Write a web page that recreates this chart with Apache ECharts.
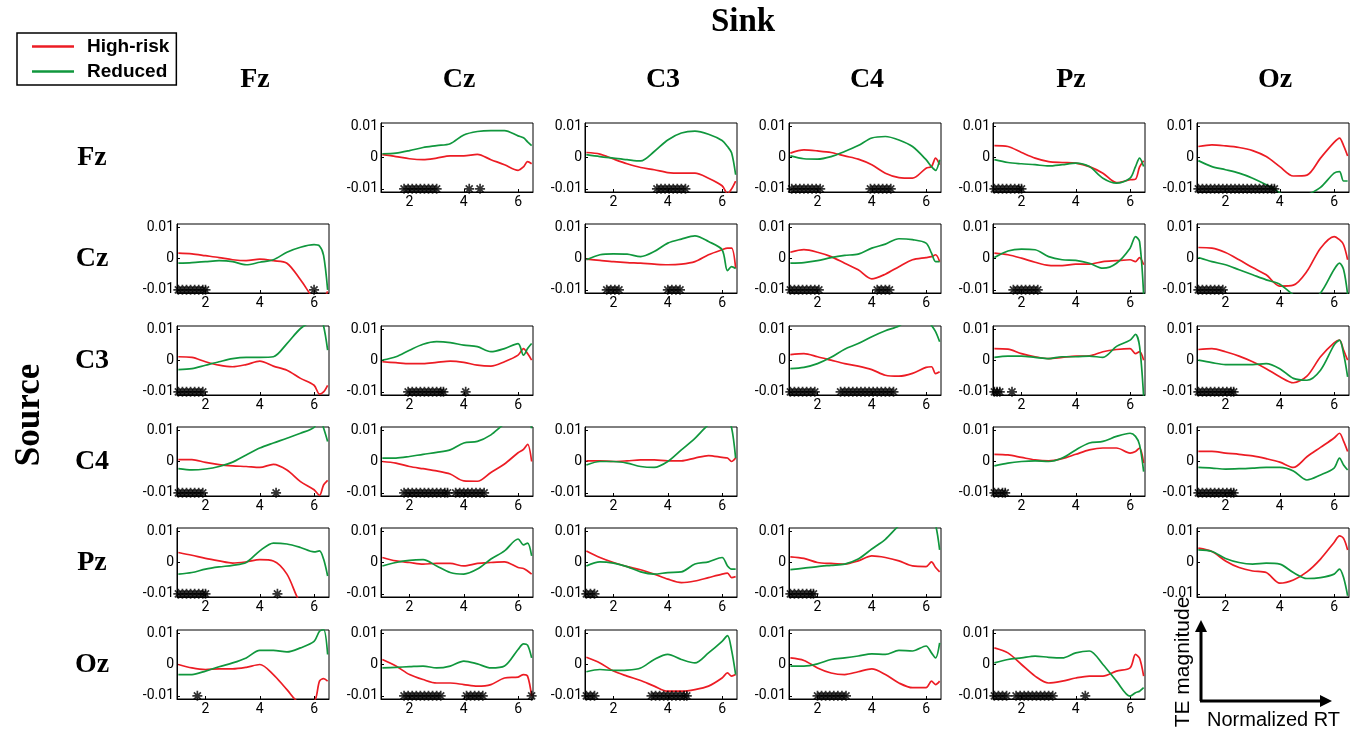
<!DOCTYPE html>
<html>
<head>
<meta charset="utf-8">
<script src="https://cdn.jsdelivr.net/npm/echarts@6/dist/echarts.min.js"></script>
<style>
  html, body { margin: 0; background: #fff; }
  #main { width: 1363px; height: 735px; }
</style>
</head>
<body>
<div id="main"></div>
<script>
// channels (rows = source, columns = sink)
const sources = ['Fz', 'Cz', 'C3', 'C4', 'Pz', 'Oz'];
const sinks = ['Fz', 'Cz', 'C3', 'C4', 'Pz', 'Oz'];

// normalized RT sample points (x)
const rt = [1, 1.5, 2, 2.5, 3, 3.5, 4, 4.5, 5, 5.5, 6, 6.2, 6.35, 6.5];

// TE values, in units of 1e-3 ; hr = High-risk, rd = Reduced, sig = asterisk positions
const hr_Fz_Cz = [0.9, 0.3, -0.4, -0.7, -0.2, 0.5, 0.5, 1.0, -0.7, -2.3, -4.1, -3.0, -1.3, -2.0];
const rd_Fz_Cz = [1.2, 1.4, 2.2, 3.2, 3.8, 4.4, 7.2, 8.3, 8.6, 8.6, 6.9, 6.3, 5.0, 3.8];
const sig_Fz_Cz = [1.8, 1.95, 2.1, 2.25, 2.4, 2.55, 2.7, 2.85, 3.0, 4.2, 4.6];
const hr_Fz_C3 = [1.6, 1.1, -0.5, -2.0, -3.2, -3.9, -4.8, -5.0, -5.0, -6.6, -9.0, -11.5, -10.0, -7.5];
const rd_Fz_C3 = [0.9, 0.3, -0.2, -0.7, -1.1, 1.9, 5.6, 7.8, 8.4, 7.4, 5.4, 3.5, 1.5, -5.5];
const sig_Fz_C3 = [3.6, 3.75, 3.9, 4.05, 4.2, 4.35, 4.5, 4.65];
const hr_Fz_C4 = [1.4, 2.4, 2.1, 1.6, 0.5, -0.5, -2.3, -5.0, -6.4, -6.6, -3.4, -2.9, -0.2, -2.3];
const rd_Fz_C4 = [0.5, -0.4, -0.5, 0.3, 1.9, 3.8, 6.2, 6.7, 5.6, 3.5, -0.7, -2.9, -4.1, -0.7];
const sig_Fz_C4 = [1.05, 1.2, 1.35, 1.5, 1.65, 1.8, 1.95, 2.1, 3.95, 4.1, 4.25, 4.4, 4.55, 4.7];
const hr_Fz_Pz = [3.8, 3.5, 1.6, -0.2, -1.3, -1.6, -1.8, -2.9, -5.0, -8.0, -7.1, -6.9, -3.0, -1.0];
const rd_Fz_Pz = [-0.7, -1.6, -2.0, -2.3, -2.7, -2.3, -1.8, -2.9, -6.6, -8.2, -6.6, -2.9, -0.2, -2.9];
const sig_Fz_Pz = [1.0, 1.15, 1.3, 1.45, 1.6, 1.75, 1.9, 2.0];
const hr_Fz_Oz = [3.5, 4.0, 3.7, 3.2, 2.2, 0.3, -2.9, -5.9, -5.6, -0.2, 4.8, 6.2, 3.8, 0.5];
const rd_Fz_Oz = [-1.0, -2.9, -3.9, -5.0, -6.6, -8.7, -11.2, -14, -12, -9.5, -5.0, -4.5, -7.5, -7.5];
const sig_Fz_Oz = [1.0, 1.15, 1.3, 1.45, 1.6, 1.75, 1.9, 2.05, 2.2, 2.35, 2.5, 2.65, 2.8, 2.95, 3.1, 3.25, 3.4, 3.55, 3.7, 3.8];

const hr_Cz_Fz = [1.7, 1.5, 0.9, 0.3, -0.4, -0.7, -0.2, -0.7, -1.5, -6.8, -13, -14, -13, -10.5];
const rd_Cz_Fz = [-1.5, -1.3, -1.0, -0.7, -1.0, -2.0, -1.2, -0.4, 2.0, 3.6, 4.4, 4.0, 1.0, -10];
const sig_Cz_Fz = [1.0, 1.15, 1.3, 1.45, 1.6, 1.75, 1.9, 2.0, 6.0];
const hr_Cz_C3 = [-0.2, -0.6, -1.0, -1.3, -1.5, -1.8, -2.0, -1.8, -1.0, 1.2, 2.8, 3.3, 3.3, -3.1];
const rd_Cz_C3 = [-0.4, 1.2, 1.5, 1.4, 0.6, 2.2, 4.9, 6.2, 7.2, 5.4, 2.8, -3.9, -2.6, -3.2];
const sig_Cz_C3 = [1.75, 1.9, 2.05, 2.2, 4.0, 4.15, 4.3, 4.45];
const hr_Cz_C4 = [2.0, 2.8, 2.0, 0.6, -1.5, -3.6, -6.5, -5.0, -2.6, -0.4, 0.3, 0.6, 1.2, -1.0];
const rd_Cz_C4 = [-1.5, -1.3, -0.7, 0.3, 1.0, 1.4, 3.3, 4.6, 6.3, 6.0, 4.9, 1.7, -1.0, -1.0];
const sig_Cz_C4 = [1.0, 1.15, 1.3, 1.45, 1.6, 1.75, 1.9, 2.05, 4.2, 4.35, 4.5, 4.65];
const hr_Cz_Pz = [1.7, 1.2, 0.1, -1.2, -2.2, -2.3, -1.8, -1.8, -1.0, -0.7, -0.4, -1.0, 0.3, -2.0];
const rd_Cz_Pz = [0.3, 2.4, 3.0, 2.8, 0.6, -0.4, -0.6, -1.5, -3.1, -1.5, 3.3, 7.0, 5.4, -11.6];
const sig_Cz_Pz = [1.7, 1.85, 2.0, 2.15, 2.3, 2.45, 2.6];
const hr_Cz_Oz = [3.5, 3.3, 1.9, -0.4, -2.9, -5.2, -8.8, -8.5, -4.1, 3.3, 7.0, 6.0, 4.4, -0.4];
const rd_Cz_Oz = [0.3, -1.0, -2.0, -3.6, -5.2, -6.8, -8.2, -11.6, -14, -11, -3.5, -1.5, -3.5, -11.5];
const sig_Cz_Oz = [1.0, 1.15, 1.3, 1.45, 1.6, 1.75, 1.9];

const hr_C3_Fz = [1.2, 1.0, -0.4, -1.5, -2.0, -1.3, -0.2, -1.8, -3.1, -5.7, -7.9, -10.7, -10.0, -7.9];
const rd_C3_Fz = [-2.9, -2.6, -1.5, -0.4, 0.6, 1.0, 1.0, 1.2, 5.4, 10.2, 13, 14, 11, 3.3];
const sig_C3_Fz = [1.0, 1.15, 1.3, 1.45, 1.6, 1.75, 1.9];
const hr_C3_Cz = [-0.4, -0.7, -1.0, -1.0, -0.6, -0.2, -0.6, -1.5, -1.8, -0.4, 1.7, 3.8, 2.2, 0.1];
const rd_C3_Cz = [0.1, 1.2, 3.3, 5.2, 6.0, 5.7, 4.9, 4.4, 2.8, 3.8, 5.4, 1.7, 3.8, 5.4];
const sig_C3_Cz = [1.95, 2.1, 2.25, 2.4, 2.55, 2.7, 2.85, 3.0, 3.15, 3.25, 4.07];
const hr_C3_C4 = [1.9, 2.2, 1.2, 0.1, -1.0, -1.8, -2.9, -4.7, -5.0, -4.1, -2.2, -2.0, -4.2, -3.6];
const rd_C3_C4 = [-2.6, -2.2, -1.0, 1.0, 3.6, 5.4, 7.6, 9.5, 11, 14, 14, 11.2, 9.2, 6.0];
const sig_C3_C4 = [1.0, 1.15, 1.3, 1.45, 1.6, 1.75, 1.9, 2.85, 3.0, 3.15, 3.3, 3.45, 3.6, 3.75, 3.9, 4.05, 4.2, 4.35, 4.5, 4.65, 4.8];
const hr_C3_Pz = [3.8, 3.6, 2.2, 1.2, 0.6, 1.0, 1.4, 1.5, 2.8, 3.5, 3.8, 2.2, 2.8, 0.1];
const rd_C3_Pz = [1.0, 1.4, 1.4, 1.0, 0.6, 1.2, 1.2, 1.4, 1.0, 4.5, 6.5, 8.3, 4.5, -11.6];
const sig_C3_Pz = [1.0, 1.1, 1.2, 1.65];
const hr_C3_Oz = [3.5, 3.8, 2.8, 1.4, -0.4, -2.6, -5.2, -7.1, -5.0, 1.2, 5.6, 6.5, 3.3, 0.1];
const rd_C3_Oz = [0.1, -0.7, -1.3, -1.3, -1.3, -1.0, -2.6, -5.7, -6.3, -3.1, 4.9, 6.5, 2.2, -5.2];
const sig_C3_Oz = [1.0, 1.15, 1.3, 1.45, 1.6, 1.75, 1.9, 2.05, 2.2, 2.3];

const hr_C4_Fz = [0.6, 0.6, -0.3, -1.0, -1.4, -1.6, -1.9, -0.9, -2.7, -6.4, -9.0, -10.8, -7.5, -6.0];
const rd_C4_Fz = [-2.3, -2.7, -2.4, -1.6, -0.2, 2.1, 4.3, 5.9, 7.4, 9.0, 10.9, 14, 10.7, 6.4];
const sig_C4_Fz = [1.0, 1.15, 1.3, 1.45, 1.6, 1.75, 1.9, 4.6];
const hr_C4_Cz = [0.0, -0.5, -1.6, -2.3, -3.0, -4.0, -6.2, -6.3, -3.5, -0.8, 2.8, 3.9, 5.5, 0];
const rd_C4_Cz = [1.1, 1.1, 1.6, 2.3, 2.9, 3.7, 5.9, 6.4, 8.5, 12, 14, 14, 14, 10.6];
const sig_C4_Cz = [1.8, 1.95, 2.1, 2.25, 2.4, 2.55, 2.7, 2.85, 3.0, 3.15, 3.3, 3.4, 3.7, 3.85, 4.0, 4.15, 4.3, 4.45, 4.6, 4.75];
const hr_C4_C3 = [0.2, 0.2, 0.0, 0.2, 0.5, 0.5, 0.2, 0.2, 1.1, 1.9, 1.3, 1.1, 0, 1.1];
const rd_C4_C3 = [-1.1, 0.0, 0.0, -0.5, -1.6, -1.9, 0, 3.7, 7.4, 11.7, 14, 13, 10.8, 1.1];
const sig_C4_C3 = [];
const hr_C4_Pz = [2.3, 2.1, 1.3, 0.5, 0.2, 0.9, 2.3, 3.7, 4.3, 4.3, 2.7, 3.2, 4.3, -0.5];
const rd_C4_Pz = [-1.4, -0.5, 0.0, 0.2, 0.0, 1.1, 3.7, 5.9, 6.4, 8.0, 9.0, 8.0, 5.3, -3.2];
const sig_C4_Pz = [1.0, 1.15, 1.3, 1.4];
const hr_C4_Oz = [3.2, 3.2, 2.7, 2.3, 1.8, 0.9, -0.2, -1.9, 1.5, 4.5, 7.5, 9.0, 6.5, 3.2];
const rd_C4_Oz = [-1.9, -2.1, -2.4, -2.3, -2.1, -1.9, -1.9, -3.0, -5.9, -4.3, -2.1, 1.1, -1.1, -2.7];
const sig_C4_Oz = [1.0, 1.15, 1.3, 1.45, 1.6, 1.75, 1.9, 2.05, 2.2, 2.3];

const hr_Pz_Fz = [3.2, 2.3, 1.3, 0.5, -0.2, 0.2, 0.9, 0.5, -3.7, -13, -16, -16, -16, -16];
const rd_Pz_Fz = [-3.7, -3.2, -2.1, -1.4, -0.9, 0.0, 3.7, 6.2, 5.9, 4.8, 3.4, 3.7, 1.1, -4.3];
const sig_Pz_Fz = [1.0, 1.15, 1.3, 1.45, 1.6, 1.75, 1.9, 2.0, 4.65];
const hr_Pz_Cz = [1.6, 0.5, 0.0, -0.5, -0.3, -0.3, -1.1, -0.3, 0, 0.2, -1.6, -1.9, -2.7, -3.7];
const rd_Pz_Cz = [-1.1, 0, 0.7, 0.9, -1.1, -3.2, -3.7, -2.1, 1.1, 3.7, 7.5, 5.6, 6.2, 2.1];
const sig_Pz_Cz = [];
const hr_Pz_C3 = [3.7, 1.6, 0.0, -1.3, -2.3, -3.7, -5.3, -6.4, -5.9, -4.8, -3.7, -3.4, -4.8, -4.5];
const rd_Pz_C3 = [-1.1, 0.2, -0.2, -1.3, -3.0, -3.7, -3.2, -3.0, -0.5, 0.2, 1.6, -1.1, -2.1, -2.1];
const sig_Pz_C3 = [1.0, 1.15, 1.3];
const hr_Pz_C4 = [1.8, 1.3, 0, -0.3, -0.5, 0.5, 2.1, 1.6, 0.5, -1.1, -1.3, 0.2, -1.6, -3.0];
const rd_Pz_C4 = [-2.3, -1.8, -1.3, -0.9, -0.5, 1.1, 4.3, 7.4, 11.7, 14, 14, 14, 12, 4];
const sig_Pz_C4 = [1.0, 1.15, 1.3, 1.45, 1.6, 1.75, 1.85];
const hr_Pz_Oz = [4.6, 3.5, 0.5, -1.6, -2.7, -3.2, -6.6, -5.6, -3.0, 1.1, 6.4, 8.5, 7.7, 4.0];
const rd_Pz_Oz = [4.0, 3.5, 1.3, 0.0, -0.5, -0.2, -0.5, -3.2, -5.1, -4.8, -3.7, -2.1, -4.8, -10.6];
const sig_Pz_Oz = [];

const hr_Oz_Fz = [0, -1.1, -1.6, -1.4, -1.4, -0.9, 0, -3.2, -8.0, -12.2, -11.7, -5.3, -4.5, -5.3];
const rd_Oz_Fz = [-3.2, -3.2, -2.1, -0.7, 0.5, 2.1, 4.5, 4.5, 4.0, 5.3, 7.4, 10.6, 11.2, 3.2];
const sig_Oz_Fz = [1.7];
const hr_Oz_Cz = [1.6, -0.5, -3.2, -4.8, -5.9, -5.9, -6.4, -6.9, -6.4, -4.3, -4.0, -3.2, -3.7, -10.1];
const rd_Oz_Cz = [-1.1, -0.9, -0.7, -0.5, -1.1, -0.5, 1.1, 0.2, -1.1, -0.5, 4.8, 6.6, 6.2, 2.1];
const sig_Oz_Cz = [1.8, 1.95, 2.1, 2.25, 2.4, 2.55, 2.7, 2.85, 3.0, 3.15, 4.1, 4.25, 4.4, 4.55, 4.7, 6.5];
const hr_Oz_C3 = [2.3, 0.5, -2.1, -3.7, -5.1, -6.9, -8.5, -8.5, -8.0, -6.9, -4.3, -2.7, -3.7, -3.2];
const rd_Oz_C3 = [-2.3, -1.6, -1.9, -1.8, -1.1, 1.6, 3.2, 1.6, 0.5, 3.7, 7.4, 9.2, 4.6, -3.2];
const sig_Oz_C3 = [1.0, 1.15, 1.3, 3.4, 3.55, 3.7, 3.85, 4.0, 4.15, 4.3, 4.45, 4.6, 4.7];
const hr_Oz_C4 = [2.1, 1.3, -1.1, -2.7, -3.2, -2.3, -1.4, -3.2, -5.9, -7.4, -7.4, -5.3, -6.4, -5.3];
const rd_Oz_C4 = [-0.5, -0.5, 0.2, 1.6, 2.1, 2.7, 3.4, 3.2, 4.5, 4.3, 5.9, 3.7, 2.1, 6.9];
const sig_Oz_C4 = [2.0, 2.15, 2.3, 2.45, 2.6, 2.75, 2.9, 3.05];
const hr_Oz_Pz = [5.3, 3.7, 0, -3.7, -5.9, -5.3, -4.3, -3.7, -3.7, -2.1, -1.1, 3.2, 2.0, -3.7];
const rd_Oz_Pz = [0.5, 1.6, 2.1, 2.7, 2.3, 2.1, 3.7, 4.3, 0, -5.3, -10.1, -9.0, -8.5, -7.4];
const sig_Oz_Pz = [1.0, 1.15, 1.3, 1.45, 1.8, 1.95, 2.1, 2.25, 2.4, 2.55, 2.7, 2.85, 3.0, 3.15, 4.35];

const panels = [
  ['Fz', 'Cz', hr_Fz_Cz, rd_Fz_Cz, sig_Fz_Cz], ['Fz', 'C3', hr_Fz_C3, rd_Fz_C3, sig_Fz_C3],
  ['Fz', 'C4', hr_Fz_C4, rd_Fz_C4, sig_Fz_C4], ['Fz', 'Pz', hr_Fz_Pz, rd_Fz_Pz, sig_Fz_Pz],
  ['Fz', 'Oz', hr_Fz_Oz, rd_Fz_Oz, sig_Fz_Oz],
  ['Cz', 'Fz', hr_Cz_Fz, rd_Cz_Fz, sig_Cz_Fz], ['Cz', 'C3', hr_Cz_C3, rd_Cz_C3, sig_Cz_C3],
  ['Cz', 'C4', hr_Cz_C4, rd_Cz_C4, sig_Cz_C4], ['Cz', 'Pz', hr_Cz_Pz, rd_Cz_Pz, sig_Cz_Pz],
  ['Cz', 'Oz', hr_Cz_Oz, rd_Cz_Oz, sig_Cz_Oz],
  ['C3', 'Fz', hr_C3_Fz, rd_C3_Fz, sig_C3_Fz], ['C3', 'Cz', hr_C3_Cz, rd_C3_Cz, sig_C3_Cz],
  ['C3', 'C4', hr_C3_C4, rd_C3_C4, sig_C3_C4], ['C3', 'Pz', hr_C3_Pz, rd_C3_Pz, sig_C3_Pz],
  ['C3', 'Oz', hr_C3_Oz, rd_C3_Oz, sig_C3_Oz],
  ['C4', 'Fz', hr_C4_Fz, rd_C4_Fz, sig_C4_Fz], ['C4', 'Cz', hr_C4_Cz, rd_C4_Cz, sig_C4_Cz],
  ['C4', 'C3', hr_C4_C3, rd_C4_C3, sig_C4_C3], ['C4', 'Pz', hr_C4_Pz, rd_C4_Pz, sig_C4_Pz],
  ['C4', 'Oz', hr_C4_Oz, rd_C4_Oz, sig_C4_Oz],
  ['Pz', 'Fz', hr_Pz_Fz, rd_Pz_Fz, sig_Pz_Fz], ['Pz', 'Cz', hr_Pz_Cz, rd_Pz_Cz, sig_Pz_Cz],
  ['Pz', 'C3', hr_Pz_C3, rd_Pz_C3, sig_Pz_C3], ['Pz', 'C4', hr_Pz_C4, rd_Pz_C4, sig_Pz_C4],
  ['Pz', 'Oz', hr_Pz_Oz, rd_Pz_Oz, sig_Pz_Oz],
  ['Oz', 'Fz', hr_Oz_Fz, rd_Oz_Fz, sig_Oz_Fz], ['Oz', 'Cz', hr_Oz_Cz, rd_Oz_Cz, sig_Oz_Cz],
  ['Oz', 'C3', hr_Oz_C3, rd_Oz_C3, sig_Oz_C3], ['Oz', 'C4', hr_Oz_C4, rd_Oz_C4, sig_Oz_C4],
  ['Oz', 'Pz', hr_Oz_Pz, rd_Oz_Pz, sig_Oz_Pz]
];

// layout
const colLeft = [177, 381, 585, 789, 993, 1197];
const rowTop = [123, 224, 326, 427, 528, 630];
const boxW = 152, boxH = 69;
const RED = '#ec1c24', GREEN = '#10973d';
const starPath = 'path://M-1.7,-10h3.4v20h-3.4zM-10,-1.7h20v3.4h-20zM-5.8,-8.2L8.2,5.8L5.8,8.2L-8.2,-5.8zM8.2,-5.8L-5.8,8.2L-8.2,5.8L5.8,-8.2z';
const tickFont = { color: '#000', fontSize: 14, fontFamily: 'Roboto' };

const grids = [], xAxes = [], yAxes = [], series = [];
panels.forEach((p, i) => {
  const r = sources.indexOf(p[0]);
  const c = sinks.indexOf(p[1]);
  grids.push({
    left: colLeft[c], top: rowTop[r], width: boxW, height: boxH,
    show: true, borderColor: '#000', borderWidth: 1, backgroundColor: 'transparent'
  });
  xAxes.push({
    type: 'value', gridIndex: i, min: 0.95, max: 6.55,
    axisLine: { show: true, onZero: false, lineStyle: { color: '#000', width: 1 } },
    axisTick: { show: true, inside: true, length: 3, customValues: [2, 4, 6], lineStyle: { color: '#000' } },
    axisLabel: Object.assign({ customValues: [2, 4, 6], margin: 3 }, tickFont),
    splitLine: { show: false }
  });
  yAxes.push({
    type: 'value', gridIndex: i, min: -11, max: 11,
    axisLine: { show: true, onZero: false, lineStyle: { color: '#000', width: 1 } },
    axisTick: { show: true, inside: true, length: 3, customValues: [-10, 0, 10], lineStyle: { color: '#000' } },
    axisLabel: Object.assign({
      customValues: [-10, 0, 10], margin: 3,
      formatter: v => (v === 0 ? '0' : String(v / 1000))
    }, tickFont),
    splitLine: { show: false }
  });
  series.push({
    name: 'High-risk', type: 'line', xAxisIndex: i, yAxisIndex: i,
    data: rt.map((x, k) => [x, p[2][k]]), symbol: 'none', smooth: 0.3,
    lineStyle: { color: RED, width: 1.7 }, itemStyle: { color: RED }, z: 2
  });
  series.push({
    name: 'Reduced', type: 'line', xAxisIndex: i, yAxisIndex: i,
    data: rt.map((x, k) => [x, p[3][k]]), symbol: 'none', smooth: 0.3,
    lineStyle: { color: GREEN, width: 1.7 }, itemStyle: { color: GREEN }, z: 3
  });
  series.push({
    name: 'sig', type: 'scatter', xAxisIndex: i, yAxisIndex: i,
    data: p[4].map(x => [x, -10]), symbol: starPath, symbolSize: 10,
    itemStyle: { color: '#000' }, z: 4, silent: true
  });
});

const graphic = [
  { type: 'text', x: 743, y: 22, style: { text: 'Sink', font: 'bold 33px "Liberation Serif"', fill: '#000', textAlign: 'center', textVerticalAlign: 'middle' } },
  { type: 'text', x: 30, y: 415, rotation: Math.PI / 2, style: { text: 'Source', font: 'bold 35px "Liberation Serif"', fill: '#000', textAlign: 'center', textVerticalAlign: 'middle' } }
];
sinks.forEach((s, c) => {
  graphic.push({ type: 'text', x: colLeft[c] + boxW / 2 + 2, y: 80, style: { text: s, font: 'bold 28px "Liberation Serif"', fill: '#000', textAlign: 'center', textVerticalAlign: 'middle' } });
});
sources.forEach((s, r) => {
  graphic.push({ type: 'text', x: 92, y: rowTop[r] + boxH / 2, style: { text: s, font: 'bold 28px "Liberation Serif"', fill: '#000', textAlign: 'center', textVerticalAlign: 'middle' } });
});
// schematic axes in the empty lower-right cell
graphic.push(
  { type: 'line', shape: { x1: 1201, y1: 701, x2: 1201, y2: 630 }, style: { stroke: '#000', lineWidth: 3 } },
  { type: 'polygon', shape: { points: [[1195, 632], [1201, 620], [1207, 632]] }, style: { fill: '#000' } },
  { type: 'line', shape: { x1: 1200, y1: 701, x2: 1322, y2: 701 }, style: { stroke: '#000', lineWidth: 3 } },
  { type: 'polygon', shape: { points: [[1320, 695], [1332, 701], [1320, 707]] }, style: { fill: '#000' } },
  { type: 'text', x: 1183, y: 662, rotation: Math.PI / 2, style: { text: 'TE magnitude', font: '21px "Liberation Sans"', fill: '#000', textAlign: 'center', textVerticalAlign: 'middle' } },
  { type: 'text', x: 1207, y: 720, style: { text: 'Normalized RT', font: '20px "Liberation Sans"', fill: '#000', textAlign: 'left', textVerticalAlign: 'middle' } }
);

const chart = echarts.init(document.getElementById('main'));
chart.setOption({
  animation: false,
  backgroundColor: '#fff',
  legend: {
    data: ['High-risk', 'Reduced'], orient: 'vertical', left: 17, top: 33,
    icon: 'rect', itemWidth: 42, itemHeight: 2.5, itemGap: 6,
    padding: [4, 7, 4, 15], borderColor: '#000', borderWidth: 1.5,
    selectedMode: false,
    textStyle: { fontFamily: 'Liberation Sans', fontWeight: 'bold', fontSize: 19, color: '#000', padding: [0, 0, 0, 8] }
  },
  grid: grids,
  xAxis: xAxes,
  yAxis: yAxes,
  series: series,
  graphic: graphic
});
</script>
</body>
</html>
